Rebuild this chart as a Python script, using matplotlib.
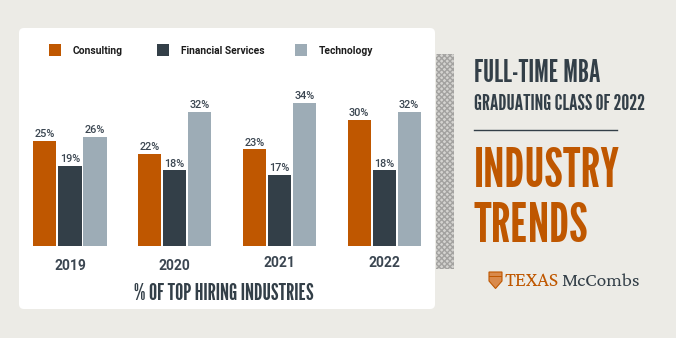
import numpy as np
import matplotlib
matplotlib.use("Agg")
import matplotlib.pyplot as plt
from matplotlib.patches import FancyBboxPatch, Rectangle, Polygon

years = ["2019", "2020", "2021", "2022"]
industries = ["Consulting", "Financial Services", "Technology"]
consulting = [25, 22, 23, 30]
financial = [19, 18, 17, 18]
technology = [26, 32, 34, 32]

orange = "#bf5700"
charcoal = "#333f48"
slate = "#9dacb6"
bg = "#ecebe6"
label_col = "#3b4651"

W, H = 676, 338
fig = plt.figure(figsize=(W / 100, H / 100), dpi=100, facecolor=bg)

# background layer in pixel units (y down)
bga = fig.add_axes([0, 0, 1, 1], zorder=0)
bga.set_xlim(0, W)
bga.set_ylim(H, 0)
bga.axis("off")

bga.add_patch(FancyBboxPatch((19, 28), 416, 281, boxstyle="round,pad=0,rounding_size=5",
                             facecolor="white", edgecolor="none"))
plt.rcParams["hatch.linewidth"] = 1.0
bga.add_patch(Rectangle((436, 54), 18, 215, facecolor="#d4d3d0", edgecolor="#a3a2a0",
                        hatch="xxxxxx", linewidth=0))

# legend
leg_x = [49, 157, 295]
for x, name, c in zip(leg_x, industries, [orange, charcoal, slate]):
    bga.add_patch(Rectangle((x, 44), 12, 12, facecolor=c, edgecolor="none"))
    bga.text(x + 24, 50.5, name, family="Roboto", weight="bold", fontsize=7.4,
             color="#1c1c1c", va="center", ha="left")

# bar chart
ax = fig.add_axes([19 / W, (H - 246) / H, 416 / W, 218 / H], zorder=1)
ax.patch.set_visible(False)
x = np.arange(len(years))
gap = 0.239
width = 0.22
for k, (vals, c) in enumerate(zip([consulting, financial, technology], [orange, charcoal, slate])):
    bars = ax.bar(x + (k - 1) * gap, vals, width, color=c, edgecolor="none")
    for b, v in zip(bars, vals):
        ax.annotate(f"{v}%", (b.get_x() + b.get_width() / 2, v), xytext=(0, 2.8),
                    textcoords="offset points", ha="center", va="baseline",
                    family="Roboto", weight="medium", fontsize=7.8, color=label_col)
ax.set_xlim(-0.487, 3.486)
ax.set_ylim(0, 218 / 4.2)
ax.axis("off")

year_dy = [0, 0, -3, -3]
for i, (yr, dy) in enumerate(zip(years, year_dy)):
    ax.annotate(yr, (i, 0), xytext=(0, -(24 + dy) * 0.72), textcoords="offset points",
                ha="center", va="baseline", family="Roboto", weight="bold",
                fontsize=10, color=label_col, annotation_clip=False)

bga.text(224, 300, "% OF TOP HIRING INDUSTRIES", family="League Gothic", fontsize=16.5,
         color=charcoal, ha="center", va="baseline")

# right-hand title block
bga.text(474, 82, "FULL-TIME MBA", family="League Gothic", fontsize=21.5,
         color=charcoal, ha="left", va="baseline")
bga.text(474, 110, "GRADUATING CLASS OF 2022", family="League Gothic", fontsize=15.8,
         color=charcoal, ha="left", va="baseline")
bga.plot([474, 617], [130, 130], color=charcoal, lw=1.0)
# baseline of a two-line text sits on the last line here
bga.text(474, 242, "INDUSTRY\nTRENDS", family="League Gothic", fontsize=39,
         color=orange, ha="left", va="baseline", linespacing=1.12)

# logo
shield = Polygon([(489, 272), (502, 272), (502, 281), (495.5, 288.5), (489, 281)],
                 closed=True, facecolor="#d98a4c", edgecolor=orange, linewidth=0.8)
bga.add_patch(shield)
bga.add_patch(Rectangle((489, 276), 13, 1.2, facecolor=orange, edgecolor="none"))
tx = bga.text(505, 286, "TEXAS", family="Crimson Pro", fontsize=14.5, color=orange,
              ha="left", va="baseline")
fig.canvas.draw()
tx_w = tx.get_window_extent().width
bga.text(505 + tx_w + 2, 286, "McCombs", family="Crimson Pro", fontsize=14, color=charcoal,
         ha="left", va="baseline")

fig.savefig("out.png", dpi=100, facecolor=bg)
